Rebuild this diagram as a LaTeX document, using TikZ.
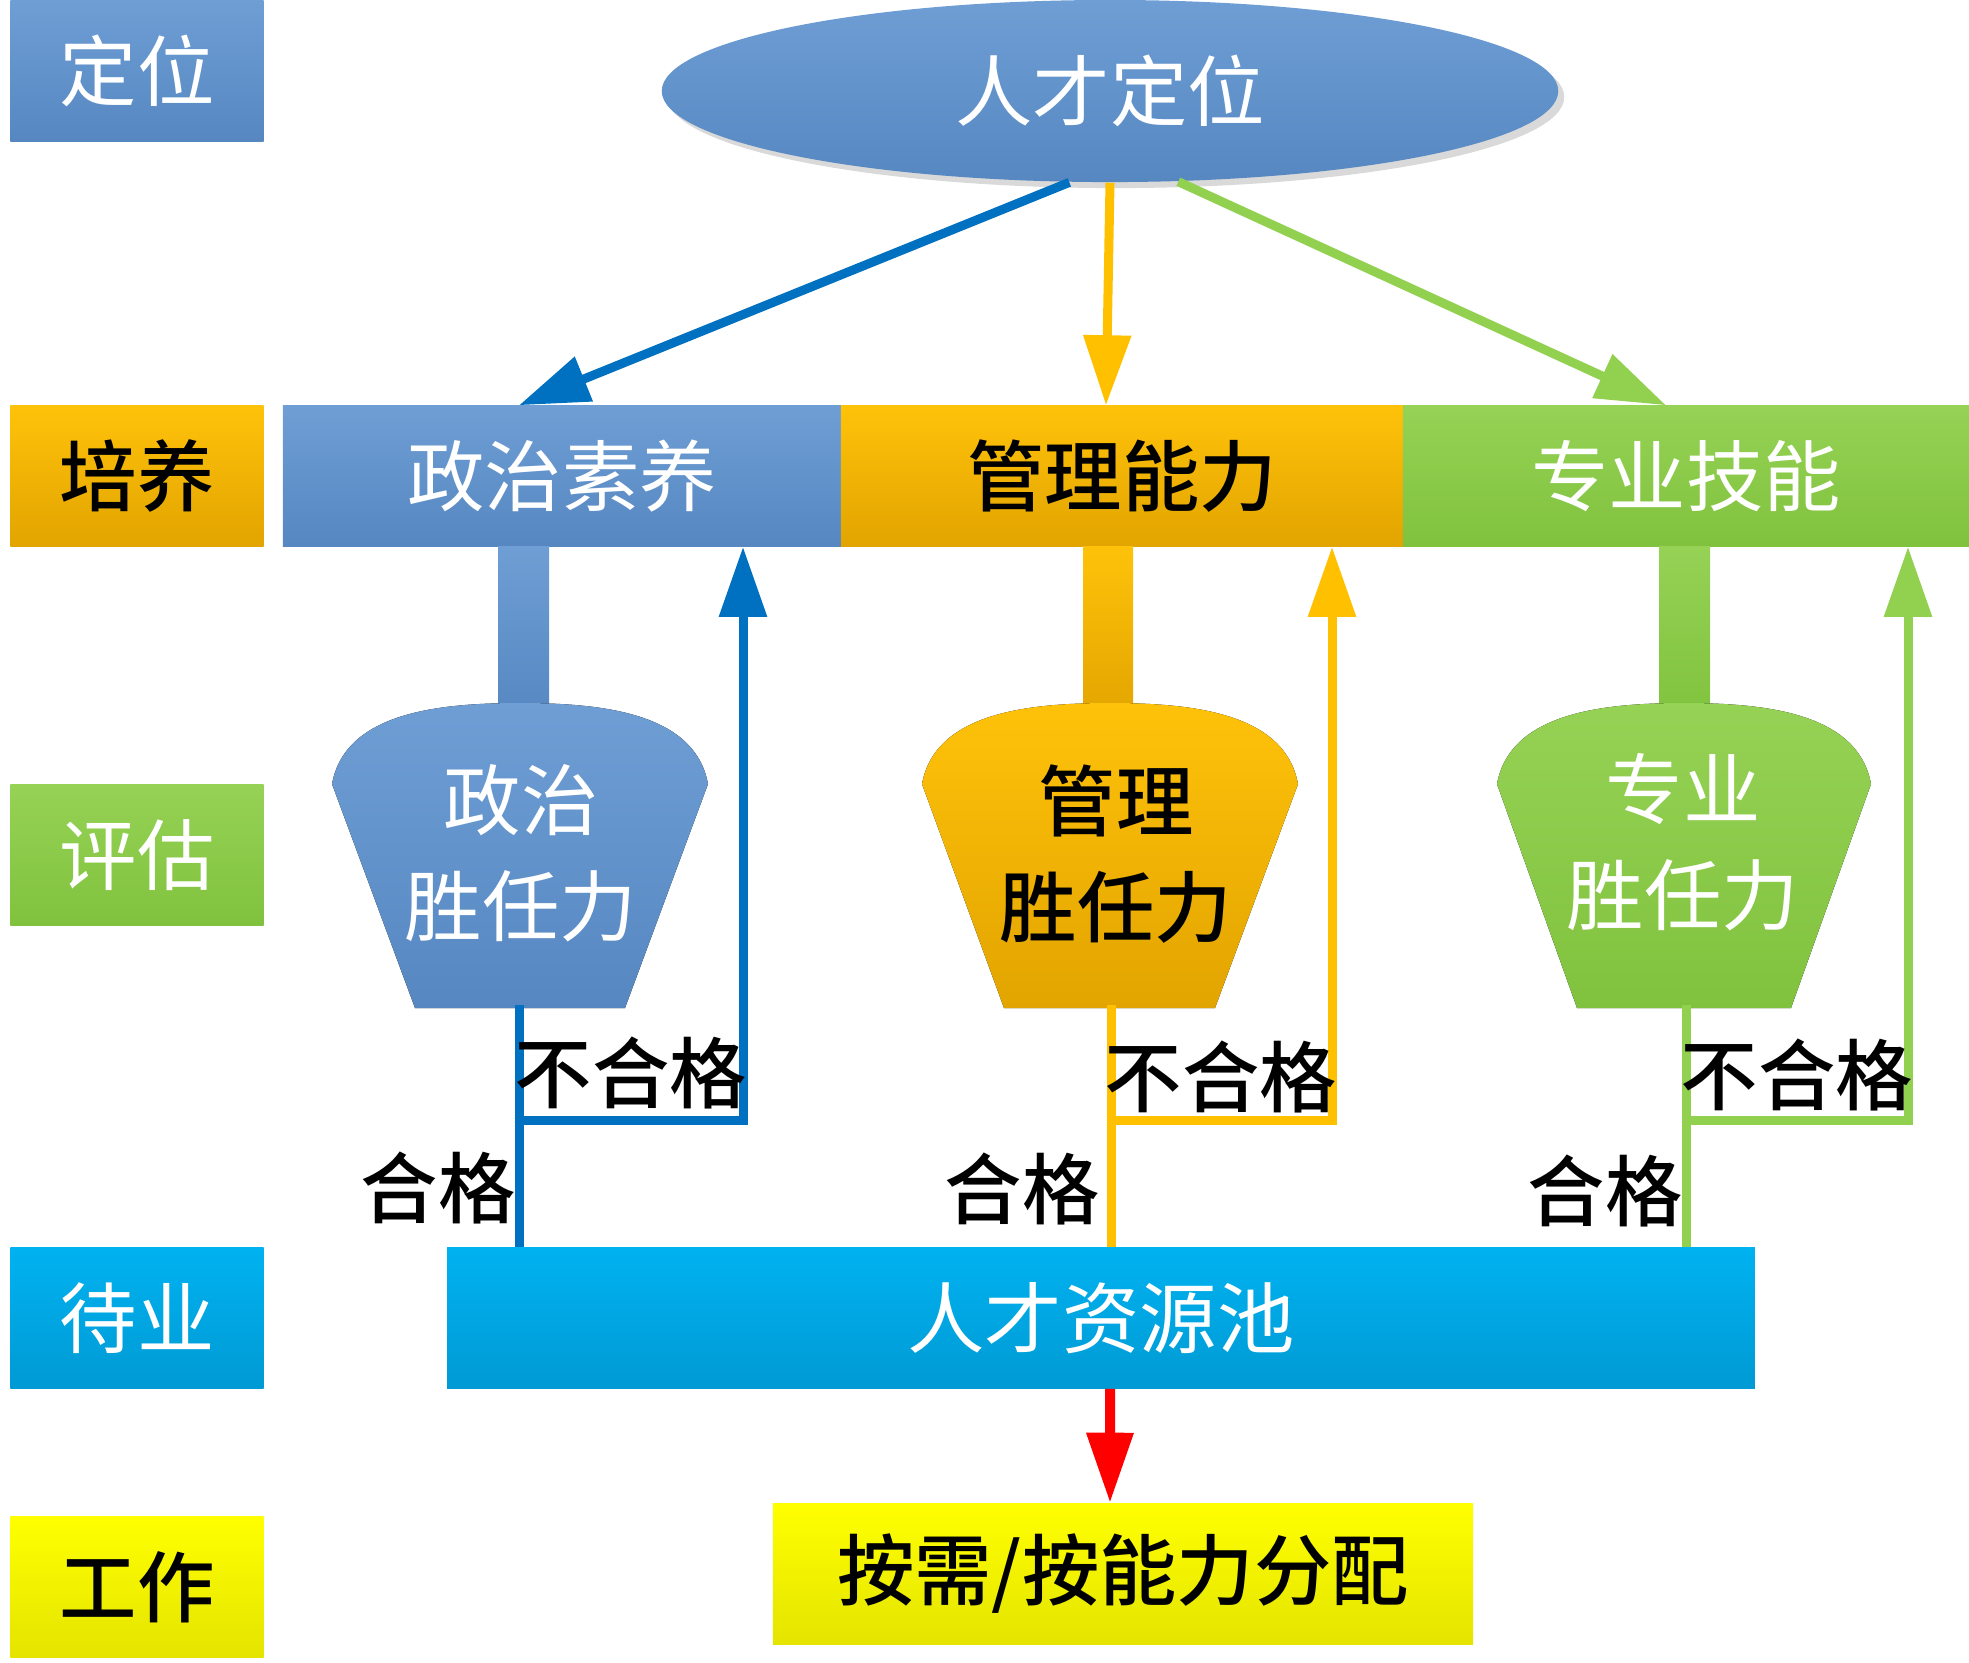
\documentclass[tikz,border=0pt]{standalone}
\usepackage{fontspec}
\setmainfont{Noto Sans CJK SC}[BoldFont={Noto Sans CJK SC Medium}]
\usetikzlibrary{arrows.meta,shapes.geometric,shadows}

\definecolor{blueA}{RGB}{110,158,212}
\definecolor{blueB}{RGB}{86,135,193}
\definecolor{amberA}{RGB}{255,194,10}
\definecolor{amberB}{RGB}{226,164,0}
\definecolor{greenA}{RGB}{150,210,85}
\definecolor{greenB}{RGB}{128,194,62}
\definecolor{cyanA}{RGB}{0,178,240}
\definecolor{cyanB}{RGB}{0,154,212}
\definecolor{yelA}{RGB}{255,255,0}
\definecolor{yelB}{RGB}{228,228,0}
\definecolor{blueline}{RGB}{0,112,192}
\definecolor{amberline}{RGB}{255,192,0}
\definecolor{greenline}{RGB}{146,208,80}

\begin{document}
\begin{tikzpicture}[x=0.01cm, y=-0.01cm,
  every node/.style={font=\fontsize{22}{30}\selectfont, inner sep=0pt},
  dark/.style={font=\fontsize{22}{30}\selectfont\bfseries},
  tag/.style={rectangle, minimum width=2.53cm, minimum height=1.4cm},
  bar/.style={rectangle, minimum height=1.4cm},
  bluefill/.style={top color=blueA, bottom color=blueB},
  amberfill/.style={top color=amberA, bottom color=amberB},
  greenfill/.style={top color=greenA, bottom color=greenB},
  cyanfill/.style={top color=cyanA, bottom color=cyanB},
  yelfill/.style={top color=yelA, bottom color=yelB},
  pipe/.style={line width=0.09cm},
  tip/.style={-{Triangle[length=0.7cm,width=0.46cm]}}]
  \useasboundingbox (0,0) rectangle (1969,1662);
  % stages on the left
  \node [tag, bluefill, text=white] (locate) at (137,71) {定位};
  \node [tag, amberfill, dark] (train) at (137,476) {培养};
  \node [tag, greenfill, text=white] (assess) at (137,855) {评估};
  \node [tag, cyanfill, text=white] (wait) at (137,1318) {待业};
  \node [tag, yelfill, dark] (work) at (137,1587) {工作};
  % top and the three fields
  \node [ellipse, minimum width=8.96cm, minimum height=1.82cm, bluefill, text=white,
    drop shadow={shadow xshift=0.06cm, shadow yshift=-0.06cm, opacity=0.3}] (goal) at (1110,91) {人才定位};
  \node [bar, minimum width=5.58cm, bluefill, text=white] (pol) at (562,476) {政治素养};
  \node [bar, minimum width=5.62cm, amberfill, dark] (mgmt) at (1122,476) {管理能力};
  \node [bar, minimum width=5.66cm, greenfill, text=white] (prof) at (1686,476) {专业技能};
  \node [bar, minimum width=13.07cm, cyanfill, text=white] (pool) at (1101,1318) {人才资源池};
  \node [rectangle, minimum width=7cm, minimum height=1.41cm, yelfill, dark] (alloc) at (1123,1574) {按需/按能力分配};
  \draw [pipe, blueline, tip] (goal.246) -- ([xshift=-0.43cm]pol.north);
  \draw [pipe, amberline, tip] (goal.south) -- ([xshift=-0.16cm]mgmt.north);
  \draw [pipe, greenline, tip] (goal.307) -- ([xshift=-0.2cm]prof.north);
  \draw [line width=0.1cm, red, -{Triangle[length=0.7cm,width=0.45cm]}] ([xshift=0.09cm]pool.south) -- ([xshift=-0.13cm]alloc.north);
  % the three bowls
  \fill [bluefill] (498,546) rectangle (549,720);
  \fill [bluefill] (332,784) .. controls (345,712) and (440,703) .. (520,703)
    .. controls (600,703) and (695,712) .. (708,784) -- (625,1008) -- (415,1008) -- cycle;
  \fill [amberfill] (1083,546) rectangle (1133,720);
  \fill [amberfill] (922,784) .. controls (935,712) and (1030,703) .. (1110,703)
    .. controls (1190,703) and (1285,712) .. (1298,784) -- (1215,1008) -- (1004,1008) -- cycle;
  \fill [greenfill] (1659,546) rectangle (1710,720);
  \fill [greenfill] (1497,784) .. controls (1510,712) and (1605,703) .. (1684,703)
    .. controls (1763,703) and (1858,712) .. (1871,784) -- (1791,1008) -- (1577,1008) -- cycle;
  \node [align=center, text=white] (polcomp) at (521,853) {政治\\胜任力};
  \node [align=center, dark] (mgmtcomp) at (1116,854) {管理\\胜任力};
  \node [align=center, text=white] (profcomp) at (1683,842) {专业\\胜任力};
  % pass or go back
  \coordinate (pol-out) at (519,1005);
  \coordinate (pol-fork) at (519,1120);
  \coordinate (pol-back) at (743,1120);
  \draw [pipe, blueline] (pol-out) -- (pol-out |- pool.north);
  \draw [pipe, blueline, tip] (pol-fork) -- (pol-back) -- (pol-back |- pol.south);
  \node [dark] (pol-fail) at (631,1073) {不合格};
  \node [dark] (pol-pass) at (438,1188) {合格};
  \coordinate (mgmt-out) at (1111,1005);
  \coordinate (mgmt-fork) at (1111,1120);
  \coordinate (mgmt-back) at (1332,1120);
  \draw [pipe, amberline] (mgmt-out) -- (mgmt-out |- pool.north);
  \draw [pipe, amberline, tip] (mgmt-fork) -- (mgmt-back) -- (mgmt-back |- mgmt.south);
  \node [dark] (mgmt-fail) at (1221,1077) {不合格};
  \node [dark] (mgmt-pass) at (1022,1189) {合格};
  \coordinate (prof-out) at (1686,1005);
  \coordinate (prof-fork) at (1686,1120);
  \coordinate (prof-back) at (1908,1120);
  \draw [pipe, greenline] (prof-out) -- (prof-out |- pool.north);
  \draw [pipe, greenline, tip] (prof-fork) -- (prof-back) -- (prof-back |- prof.south);
  \node [dark] (prof-fail) at (1797,1075) {不合格};
  \node [dark] (prof-pass) at (1605,1191) {合格};
\end{tikzpicture}
\end{document}
